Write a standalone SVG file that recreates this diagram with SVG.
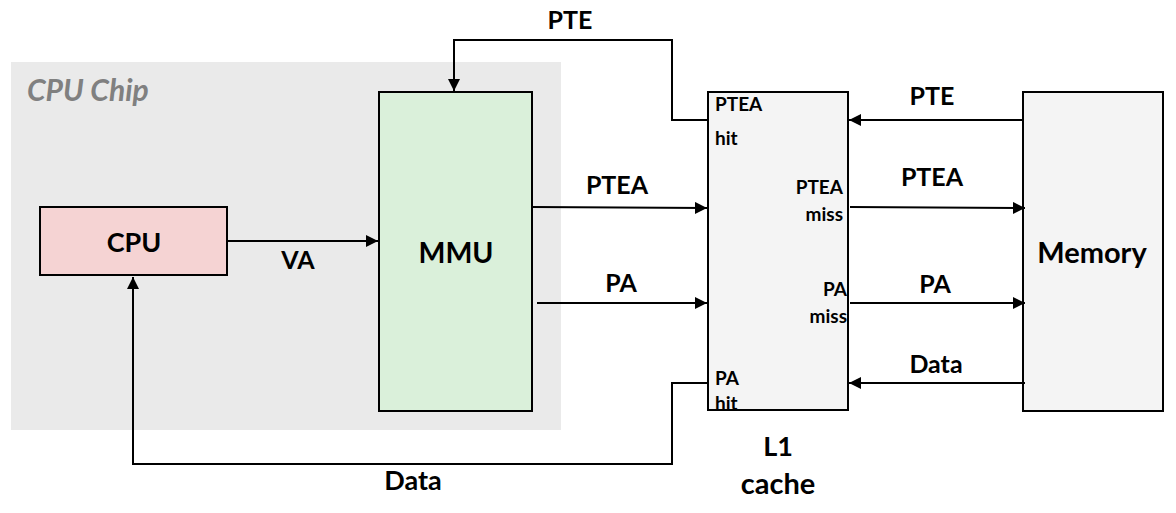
<svg xmlns="http://www.w3.org/2000/svg" width="1176" height="513" viewBox="0 0 1176 513">
<style>
text{font-family:Lato,"Open Sans",sans-serif;font-weight:bold;fill:#000}
.lbl{font-size:25px;text-anchor:middle}
.nd{font-size:27px;text-anchor:middle}
.sm{font-size:19px}
.r{text-anchor:end}
.box{stroke:#000;stroke-width:2}
.ln{fill:none;stroke:#000;stroke-width:2}
</style>
<defs>
<marker id="ah" viewBox="0 0 10 10" refX="10" refY="5" markerWidth="6" markerHeight="6" orient="auto" markerUnits="strokeWidth">
<path d="M0,0L10,5L0,10z" fill="#000"/>
</marker>
</defs>
<g id="chip">
<rect x="11" y="62" width="550" height="368" fill="#EAEAEA"/>
<text x="27" y="101" style="font-size:30px;font-style:italic;fill:#808080">CPU Chip</text>
</g>
<g id="cpu">
<rect class="box" x="40" y="207" width="187" height="68" fill="#F5D3D3"/>
<text class="nd" x="134" y="252">CPU</text>
</g>
<g id="mmu">
<rect class="box" x="379" y="92" width="153" height="319" fill="#DAF0DA"/>
<text class="nd" x="456" y="263" style="font-size:28.5px">MMU</text>
</g>
<g id="l1">
<rect class="box" x="708" y="92" width="140" height="318" fill="#F4F4F4"/>
<text class="sm" x="715" y="111">PTEA</text>
<text class="sm" x="715" y="145">hit</text>
<text class="sm r" x="843" y="194">PTEA</text>
<text class="sm r" x="843" y="221">miss</text>
<text class="sm r" x="847" y="296">PA</text>
<text class="sm r" x="847" y="323">miss</text>
<text class="sm" x="715" y="385">PA</text>
<text class="sm" x="715" y="410">hit</text>
<text class="nd" x="778" y="456">L1</text>
<text class="nd" x="778" y="494" style="font-size:29px">cache</text>
</g>
<g id="memory">
<rect class="box" x="1023" y="92" width="140" height="319" fill="#F4F4F4"/>
<text class="nd" x="1092" y="263" style="font-size:29px">Memory</text>
</g>
<g id="connectors">
<path class="ln" d="M227,241H378" marker-end="url(#ah)"/>
<path class="ln" d="M708,120H672V40H454V91" marker-end="url(#ah)"/>
<path class="ln" d="M533,207L707,208" marker-end="url(#ah)"/>
<path class="ln" d="M537,303H707" marker-end="url(#ah)"/>
<path class="ln" d="M708,383H672V464H133V277" marker-end="url(#ah)"/>
<path class="ln" d="M1023,120H849" marker-end="url(#ah)"/>
<path class="ln" d="M850,207L1025,208" marker-end="url(#ah)"/>
<path class="ln" d="M850,303H1025" marker-end="url(#ah)"/>
<path class="ln" d="M1025,383H849" marker-end="url(#ah)"/>
<text class="lbl" x="298" y="269">VA</text>
<text class="lbl" x="570" y="29">PTE</text>
<text class="lbl" x="617" y="194">PTEA</text>
<text class="lbl" x="621" y="292">PA</text>
<text class="lbl" x="413" y="490" style="font-size:27px">Data</text>
<text class="lbl" x="932" y="105">PTE</text>
<text class="lbl" x="932" y="186">PTEA</text>
<text class="lbl" x="935" y="293">PA</text>
<text class="lbl" x="936" y="373">Data</text>
</g>
</svg>
